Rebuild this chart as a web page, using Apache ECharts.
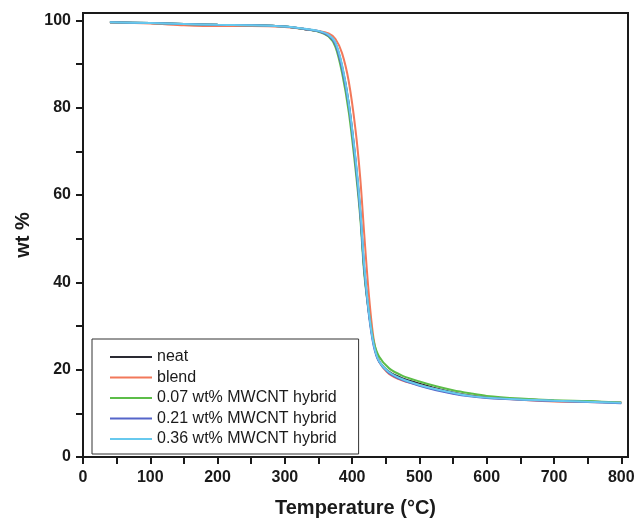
<!DOCTYPE html>
<html>
<head>
<meta charset="utf-8">
<script src="https://cdn.jsdelivr.net/npm/echarts@6/dist/echarts.min.js"></script>
<style>
  html, body { margin: 0; padding: 0; background: #fff; }
  #tga { width: 635px; height: 520px; }
</style>
</head>
<body>
<div id="tga"></div>
<script>
// temperature points (°C), shared by every curve
const temps = [40, 100, 150, 200, 250, 300, 330, 350, 365, 375, 385, 395, 405, 412, 418, 425, 432, 440, 455, 475, 500, 525, 550, 575, 600, 650, 700, 750, 800];

// wt %
const neatWt   = [99.6, 99.4, 99.2, 99.0, 98.9, 98.6, 98.0, 97.5, 96.6, 94.8, 89.5, 81.0, 68.0, 56.5, 43.0, 33.0, 26.0, 22.0, 19.5, 18.0, 16.8, 15.7, 14.8, 14.1, 13.7, 13.2, 12.9, 12.7, 12.4];
const blendWt  = [99.5, 99.3, 98.9, 98.7, 98.7, 98.5, 98.0, 97.6, 97.0, 95.8, 92.5, 86.0, 75.0, 64.0, 51.0, 37.0, 27.0, 22.0, 19.0, 17.5, 16.5, 15.5, 14.6, 14.0, 13.6, 13.1, 12.7, 12.6, 12.5];
const mw007Wt  = [99.6, 99.4, 99.2, 99.0, 98.9, 98.6, 98.0, 97.4, 96.3, 94.0, 88.0, 79.0, 66.0, 55.0, 42.0, 33.0, 26.5, 23.0, 20.3, 18.6, 17.3, 16.2, 15.3, 14.6, 14.0, 13.4, 13.0, 12.8, 12.5];
const mw021Wt  = [99.6, 99.4, 99.2, 99.0, 98.9, 98.6, 98.0, 97.5, 96.5, 94.6, 89.0, 80.5, 67.5, 56.0, 43.0, 32.5, 25.5, 21.8, 19.2, 17.6, 16.3, 15.3, 14.5, 13.9, 13.5, 13.1, 12.85, 12.6, 12.3];
const mw036Wt  = [99.6, 99.4, 99.2, 99.0, 98.9, 98.6, 98.1, 97.6, 96.7, 95.0, 89.8, 81.0, 68.5, 57.0, 44.0, 33.0, 25.8, 22.0, 19.4, 17.8, 16.5, 15.5, 14.7, 14.0, 13.6, 13.15, 12.9, 12.65, 12.4];

const seriesNames = ['neat', 'blend', '0.07 wt% MWCNT hybrid', '0.21 wt% MWCNT hybrid', '0.36 wt% MWCNT hybrid'];
const seriesWt = [neatWt, blendWt, mw007Wt, mw021Wt, mw036Wt];
const seriesColors = ['#2a2a33', '#f2785a', '#5cbd48', '#5565c9', '#67c9ee'];

const xLabels = [0, 100, 200, 300, 400, 500, 600, 700, 800];
const xTicks = [0, 50, 100, 150, 200, 250, 300, 350, 400, 450, 500, 550, 600, 650, 700, 750, 800];
const yLabels = [0, 20, 40, 60, 80, 100];
const yTicks = [0, 10, 20, 30, 40, 50, 60, 70, 80, 90, 100];

const font = 'Liberation Sans, Arial, sans-serif';
const ink = '#1a1a1a';

const chart = echarts.init(document.getElementById('tga'));

const series = seriesNames.map((name, i) => ({
    name: name,
    type: 'line',
    data: temps.map((t, j) => [t, seriesWt[i][j]]),
    symbol: 'none',
    smooth: 0.3,
    color: seriesColors[i],
    lineStyle: { color: seriesColors[i], width: 2 }
}));

chart.setOption({
    backgroundColor: '#fff',
    animation: false,
    grid: {
        left: 83, right: 7, top: 13, bottom: 63,
        outerBoundsMode: 'none',
        show: true, borderColor: ink, borderWidth: 2
    },
    legend: {
        orient: 'vertical',
        left: 92, top: 339,
        padding: [10, 22, 7, 18],
        icon: 'rect',
        itemWidth: 42, itemHeight: 2, itemGap: 4.5,
        backgroundColor: '#fff',
        borderColor: '#333', borderWidth: 1,
        textStyle: { fontFamily: font, fontSize: 16, color: ink },
        data: seriesNames
    },
    xAxis: {
        type: 'value',
        min: 0, max: 810,
        name: 'Temperature (°C)',
        nameLocation: 'middle',
        nameGap: 41,
        nameTextStyle: { fontFamily: font, fontSize: 20, fontWeight: 'bold', color: ink },
        splitLine: { show: false },
        axisLine: { onZero: false, lineStyle: { color: ink, width: 2 } },
        axisTick: { customValues: xTicks, length: 7, lineStyle: { color: ink, width: 2 } },
        axisLabel: { customValues: xLabels, margin: 13, fontFamily: font, fontSize: 16, fontWeight: 'bold', color: ink }
    },
    yAxis: {
        type: 'value',
        min: 0, max: 101.7,
        name: 'wt %',
        nameLocation: 'middle',
        nameGap: 50,
        nameTextStyle: { fontFamily: font, fontSize: 20, fontWeight: 'bold', color: ink },
        splitLine: { show: false },
        axisLine: { show: true, onZero: false, lineStyle: { color: ink, width: 2 } },
        axisTick: { show: true, customValues: yTicks, length: 7, lineStyle: { color: ink, width: 2 } },
        axisLabel: { customValues: yLabels, margin: 12, fontFamily: font, fontSize: 16, fontWeight: 'bold', color: ink }
    },
    series: series
});
</script>
</body>
</html>
